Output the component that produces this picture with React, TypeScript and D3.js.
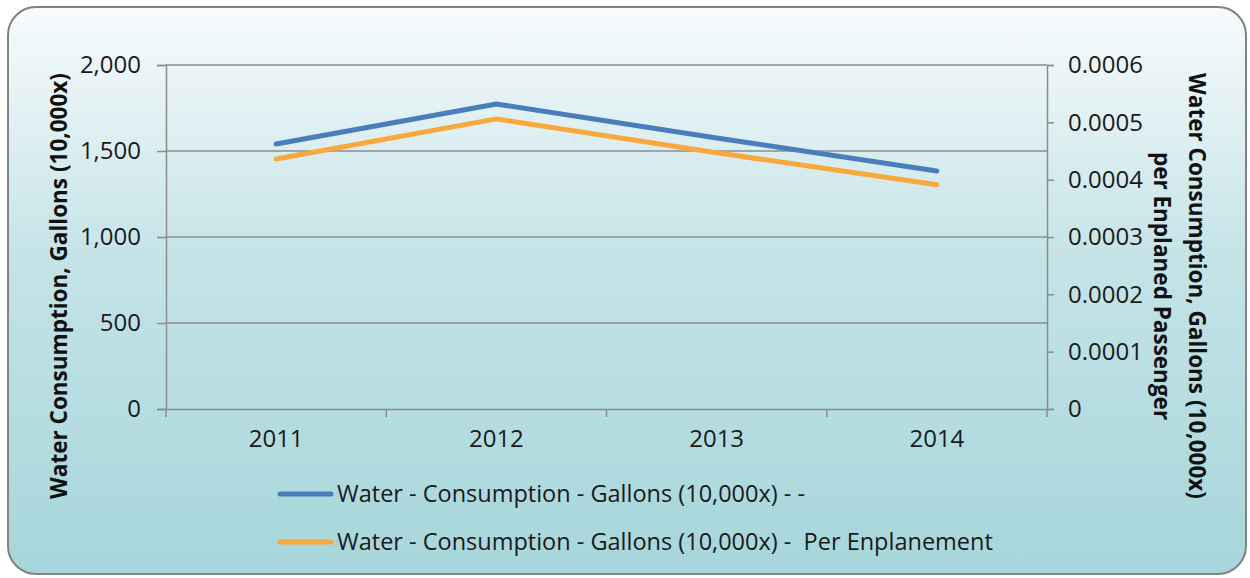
import { useEffect, useRef } from "react";
import * as d3 from "d3";

const years = ["2011", "2012", "2013", "2014"];
const gallons = [1541, 1773, 1576, 1384];
const perEnplanement = [0.000436, 0.000506, 0.000447, 0.000391];
const leftTicks = [0, 500, 1000, 1500, 2000];
const rightTicks = [0, 0.0001, 0.0002, 0.0003, 0.0004, 0.0005, 0.0006];
const seriesNames = [
  "Water - Consumption - Gallons (10,000x) - -",
  "Water - Consumption - Gallons (10,000x) -  Per Enplanement",
];
const seriesColors = ["#4a7ebb", "#f9a83e"];

export default function App() {
  const ref = useRef<HTMLDivElement>(null);

  useEffect(() => {
    if (!ref.current) return;
    d3.select(ref.current).selectAll("*").remove();

    const W = 1250;
    const H = 578;
    const font = "'Open Sans', sans-serif";
    const plot = { left: 166, right: 1047, top: 65, bottom: 409 };

    const svg = d3
      .select(ref.current)
      .append("svg")
      .attr("width", W)
      .attr("height", H)
      .style("display", "block");

    // gradient background
    const grad = svg
      .append("defs")
      .append("linearGradient")
      .attr("id", "bg")
      .attr("x1", 0)
      .attr("y1", 0)
      .attr("x2", 0)
      .attr("y2", 1);
    grad.append("stop").attr("offset", "0%").attr("stop-color", "#f7fbfc");
    grad.append("stop").attr("offset", "45%").attr("stop-color", "#c4e3e7");
    grad.append("stop").attr("offset", "100%").attr("stop-color", "#a6d6db");

    svg
      .append("rect")
      .attr("x", 8)
      .attr("y", 7)
      .attr("width", 1238)
      .attr("height", 567)
      .attr("rx", 28)
      .attr("fill", "url(#bg)")
      .attr("stroke", "#828282")
      .attr("stroke-width", 2);

    const x = d3
      .scaleBand<string>()
      .domain(years)
      .range([plot.left, plot.right]);
    const yL = d3.scaleLinear().domain([0, 2000]).range([plot.bottom, plot.top]);
    const yR = d3.scaleLinear().domain([0, 0.0006]).range([plot.bottom, plot.top]);

    const axisColor = "#8c8c8c";

    // gridlines
    svg
      .append("g")
      .selectAll("line")
      .data(leftTicks.filter((d) => d > 0))
      .enter()
      .append("line")
      .attr("x1", plot.left)
      .attr("x2", plot.right)
      .attr("y1", (d) => yL(d))
      .attr("y2", (d) => yL(d))
      .attr("stroke", axisColor)
      .attr("stroke-width", 1.5);

    // left axis
    const gl = svg
      .append("g")
      .attr("transform", `translate(${plot.left},0)`)
      .call(
        d3
          .axisLeft(yL)
          .tickValues(leftTicks)
          .tickSize(9)
          .tickPadding(16)
          .tickFormat((d) => d3.format(",")(d as number))
      );
    // right axis
    const gr = svg
      .append("g")
      .attr("transform", `translate(${plot.right},0)`)
      .call(
        d3
          .axisRight(yR)
          .tickValues(rightTicks)
          .tickSize(7)
          .tickPadding(14)
          .tickFormat((d) => ((d as number) === 0 ? "0" : d3.format(".4f")(d as number)))
      );
    // bottom axis
    const gb = svg
      .append("g")
      .attr("transform", `translate(0,${plot.bottom})`)
      .call(d3.axisBottom(x).tickSize(0).tickPadding(21));

    [gl, gr, gb].forEach((g) => {
      g.select(".domain").attr("stroke", axisColor).attr("stroke-width", 1.5);
      g.selectAll(".tick line").attr("stroke", axisColor).attr("stroke-width", 1.5);
      g.selectAll("text")
        .attr("fill", "#1a1a1a")
        .style("font-family", font)
        .style("font-size", "24px");
    });
    gb.selectAll("text").attr("dy", "0.71em");

    // category boundary ticks on x axis
    const bounds = [plot.left, ...years.slice(1).map((d) => x(d) as number), plot.right];
    gb.selectAll(".cat-tick")
      .data(bounds)
      .enter()
      .append("line")
      .attr("class", "cat-tick")
      .attr("x1", (d) => d)
      .attr("x2", (d) => d)
      .attr("y1", 0)
      .attr("y2", 8)
      .attr("stroke", axisColor)
      .attr("stroke-width", 1.5);

    const cx = (d: string) => (x(d) as number) + x.bandwidth() / 2;

    // lines
    const lineL = d3
      .line<number>()
      .x((_, i) => cx(years[i]))
      .y((d) => yL(d));
    const lineR = d3
      .line<number>()
      .x((_, i) => cx(years[i]))
      .y((d) => yR(d));

    svg
      .append("path")
      .datum(perEnplanement)
      .attr("d", lineR)
      .attr("fill", "none")
      .attr("stroke", seriesColors[1])
      .attr("stroke-width", 5)
      .attr("stroke-linecap", "round")
      .attr("stroke-linejoin", "round");
    svg
      .append("path")
      .datum(gallons)
      .attr("d", lineL)
      .attr("fill", "none")
      .attr("stroke", seriesColors[0])
      .attr("stroke-width", 5)
      .attr("stroke-linecap", "round")
      .attr("stroke-linejoin", "round");

    // axis titles
    svg
      .append("text")
      .attr("transform", `translate(67,286) rotate(-90)`)
      .attr("text-anchor", "middle")
      .style("font-family", font)
      .style("font-size", "22.5px")
      .style("font-weight", "bold")
      .attr("fill", "#111")
      .text("Water Consumption, Gallons (10,000x)");

    const rt = svg
      .append("text")
      .attr("transform", `translate(1189,286) rotate(90)`)
      .attr("text-anchor", "middle")
      .style("font-family", font)
      .style("font-size", "22.5px")
      .style("font-weight", "bold")
      .attr("fill", "#111");
    rt.append("tspan").attr("x", 0).attr("dy", 0).text("Water Consumption, Gallons (10,000x)");
    rt.append("tspan").attr("x", 0).attr("dy", 35).text("per Enplaned Passenger");

    // legend
    const legend = svg.append("g");
    seriesNames.forEach((name, i) => {
      const yy = 494 + i * 48;
      legend
        .append("line")
        .attr("x1", 280)
        .attr("x2", 331)
        .attr("y1", yy)
        .attr("y2", yy)
        .attr("stroke", seriesColors[i])
        .attr("stroke-width", 5)
        .attr("stroke-linecap", "round");
      legend
        .append("text")
        .attr("x", 337)
        .attr("y", yy)
        .attr("dy", "0.35em")
        .attr("xml:space", "preserve")
        .style("white-space", "pre")
        .style("font-family", font)
        .style("font-size", "23.5px")
        .attr("fill", "#1a1a1a")
        .text(name);
    });
  }, []);

  return (
    <div
      ref={ref}
      style={{ position: "absolute", left: 0, top: 0, width: 1250, height: 578 }}
    />
  );
}
